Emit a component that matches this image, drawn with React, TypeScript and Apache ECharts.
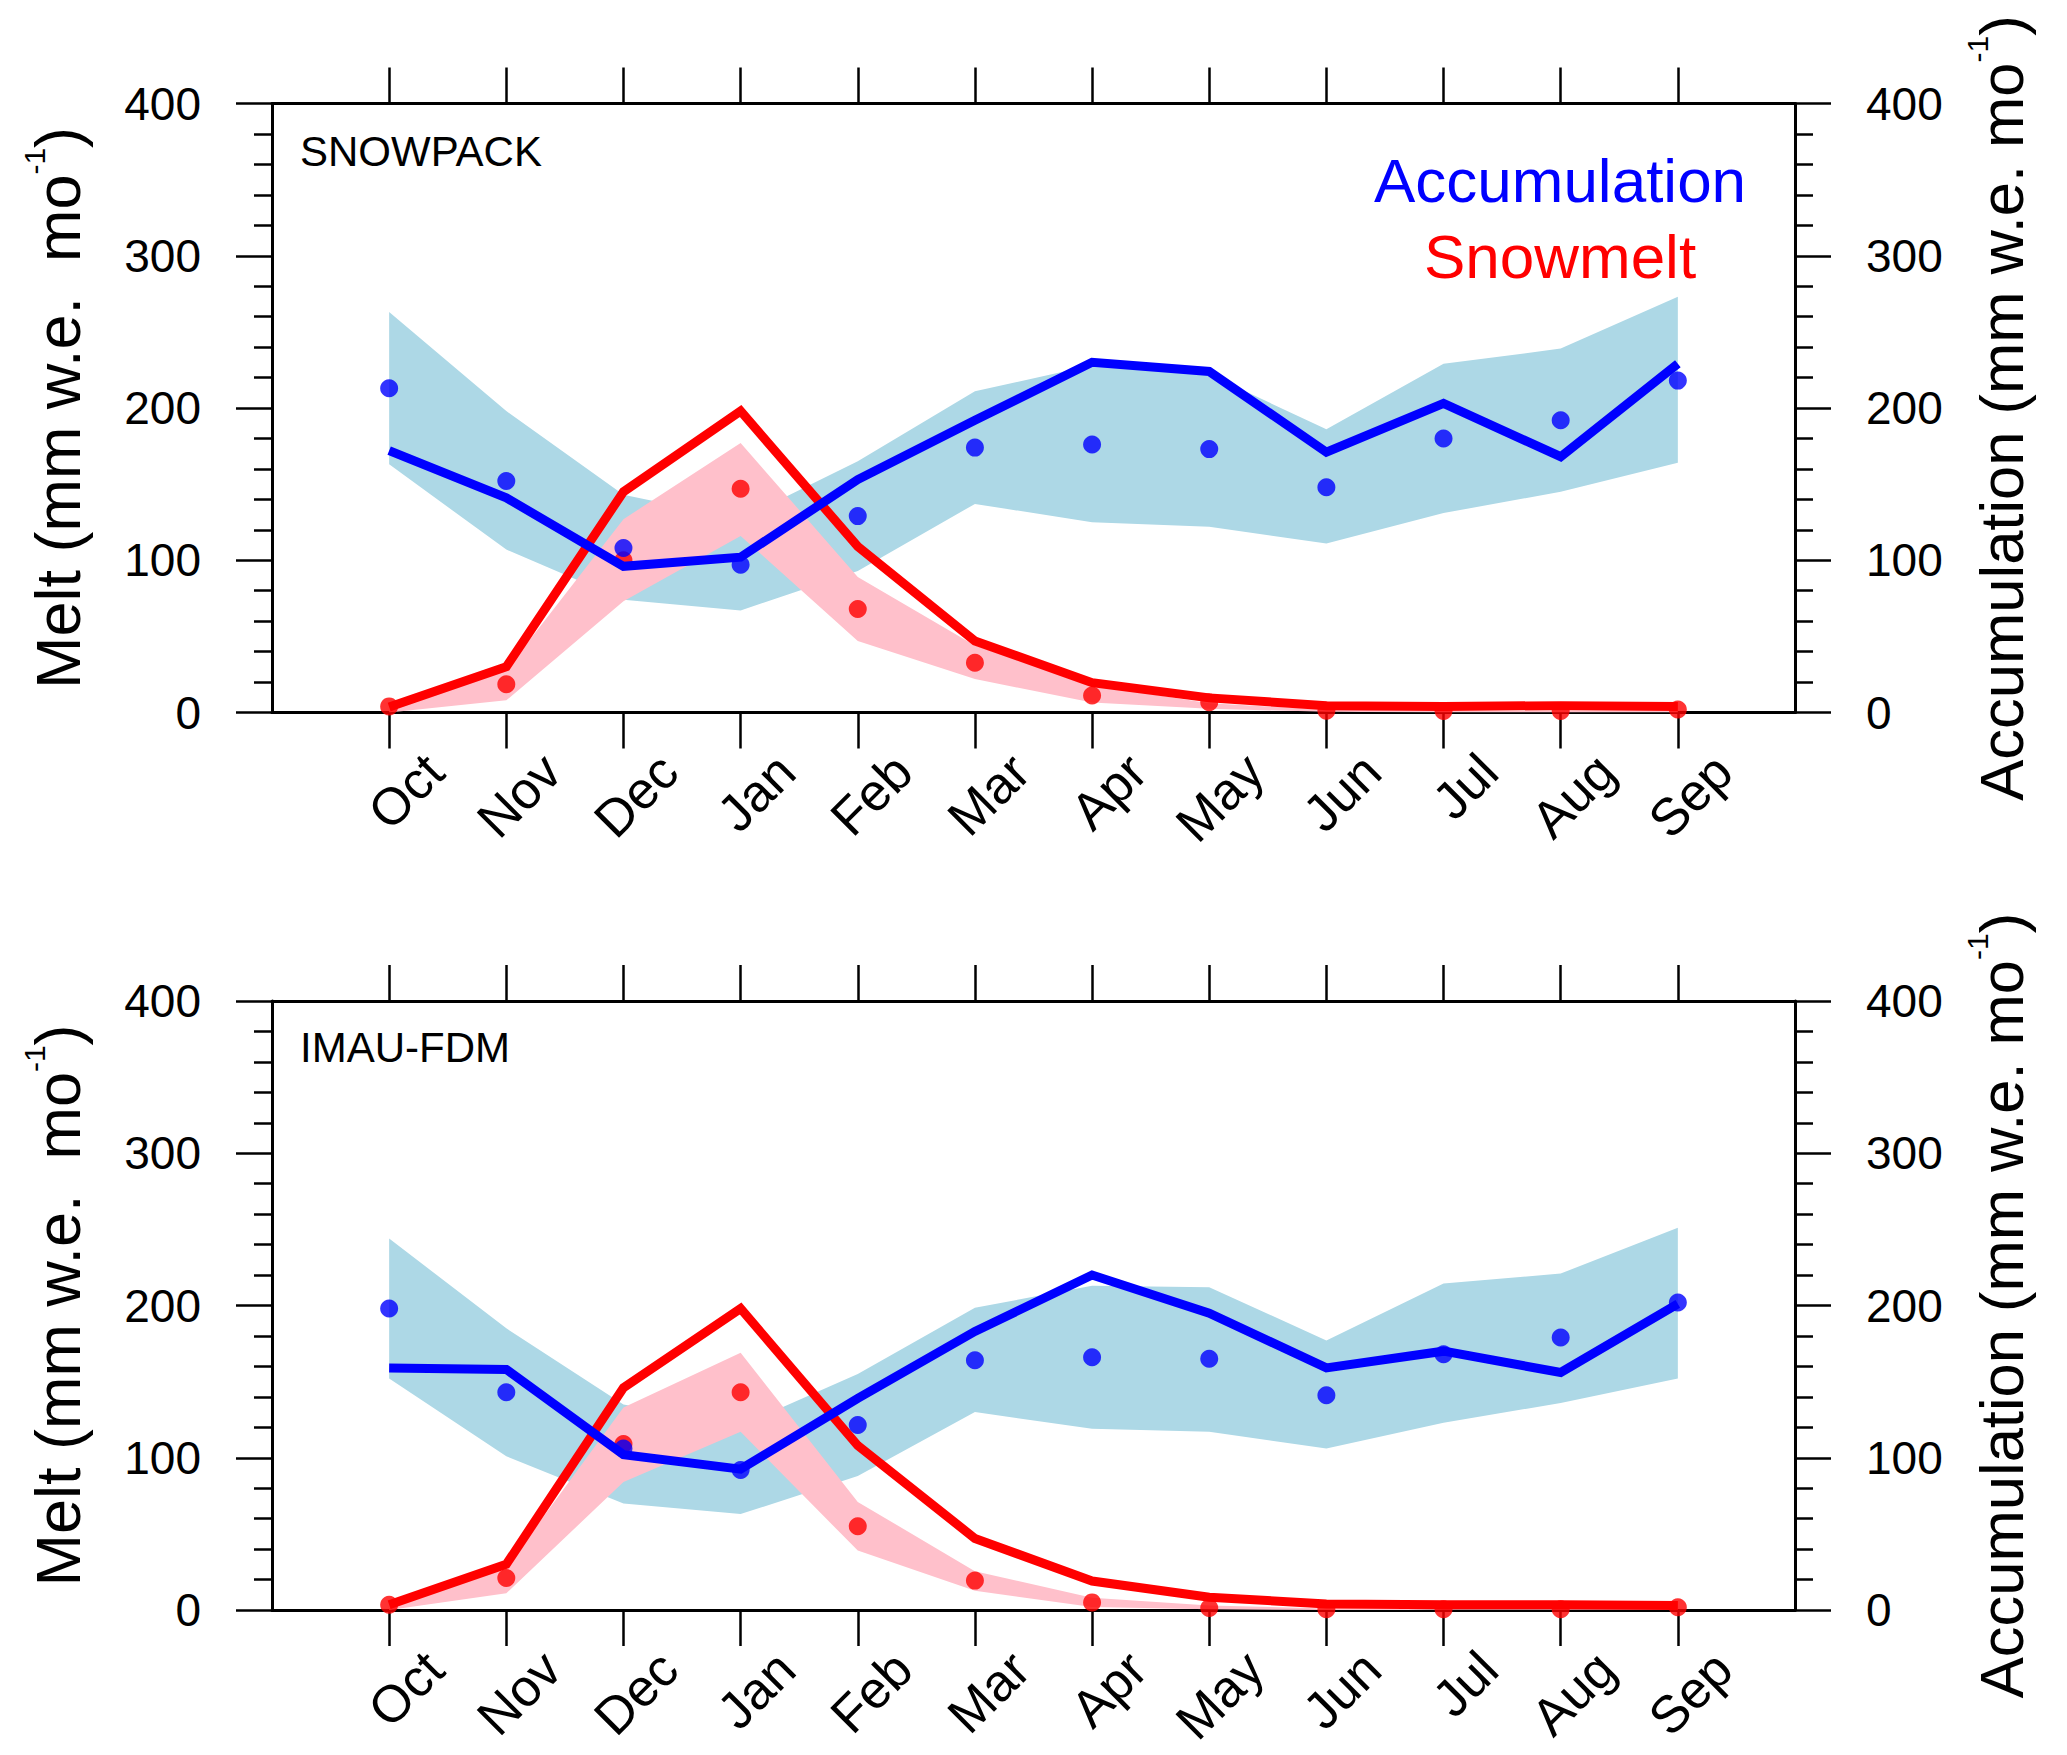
import React, { useEffect, useRef } from 'react';
import * as echarts from 'echarts';

const FONT = '"Liberation Sans", Arial, Helvetica, sans-serif';

const months = ['Oct', 'Nov', 'Dec', 'Jan', 'Feb', 'Mar', 'Apr', 'May', 'Jun', 'Jul', 'Aug', 'Sep'];
const panelLabels = ['SNOWPACK', 'IMAU-FDM'];
const legendLabels = ['Accumulation', 'Snowmelt'];

// SNOWPACK (top panel)
const accUpperTop = [263, 198, 143, 127, 165, 211, 228, 222, 186, 229, 239, 273];
const accLowerTop = [163, 107, 74, 67, 93, 137, 125, 122, 111, 131, 145, 164];
const accModelTop = [172, 141, 96, 102, 153, 192, 230, 224, 171, 203, 168, 229];
const accObsTop = [213, 152, 108, 97, 129, 174, 176, 173, 148, 180, 192, 218];
const meltModelTop = [3.6, 30, 145, 198, 109, 47, 19.6, 9.6, 4.5, 4, 4.5, 4];
const meltUpperTop = [1, 28, 127, 177, 89, 44, 18, 6, 2, 1, 1, 1];
const meltLowerTop = [0, 8, 73, 116, 47, 22, 6.5, 2.4, 0.5, 0, 0, 0];
const meltObsTop = [4, 18.6, 100, 147, 68, 32.7, 11.2, 6.7, 1.2, 1, 1, 2];

// IMAU-FDM (bottom panel)
const accUpperBot = [244, 185, 135, 121, 155, 198.5, 213, 212, 177, 214.5, 221, 251];
const accLowerBot = [152, 101, 70, 63, 88, 130, 119, 117, 106, 123, 136, 152];
const accModelBot = [159, 158, 102, 92.5, 139, 183, 220, 195, 159, 170, 156, 201];
const accObsBot = [198, 143, 106, 92, 121.5, 164, 166, 165, 141, 168, 179, 202];
const meltModelBot = [3.5, 30, 146, 198, 108, 47, 19, 8.4, 4, 3.5, 3.5, 3];
const meltUpperBot = [1, 28, 133, 169, 71, 25.5, 8, 3, 1, 0.5, 0.5, 0.5];
const meltLowerBot = [0, 11, 84, 117, 39, 12.7, 2, 0.5, 0, 0, 0, 0];
const meltObsBot = [3.5, 21, 109, 143, 55, 19.3, 5, 1.3, 0.5, 0.5, 0.5, 1.8];

const categories = ['', ...months, ''];

const panels = [
  { accUpper: accUpperTop, accLower: accLowerTop, accModel: accModelTop, accObs: accObsTop,
    meltModel: meltModelTop, meltUpper: meltUpperTop, meltLower: meltLowerTop, meltObs: meltObsTop },
  { accUpper: accUpperBot, accLower: accLowerBot, accModel: accModelBot, accObs: accObsBot,
    meltModel: meltModelBot, meltUpper: meltUpperBot, meltLower: meltLowerBot, meltObs: meltObsBot },
];

const GRID_LEFT = 272;
const GRID_WIDTH = 1523;
const GRID_HEIGHT = 609;
const GRID_TOPS = [103.5, 1001];

const pairs = (arr: number[]) => arr.map((v, i) => [i + 1, v]);
const diffPairs = (u: number[], l: number[]) => u.map((v, i) => [i + 1, v - l[i]]);

function panelSeries(gi: number, d: any) {
  const common = { xAxisIndex: gi * 2, yAxisIndex: gi * 2, silent: true };
  const bandLine = { symbol: 'none', showSymbol: false, lineStyle: { width: 0, opacity: 0 } };
  return [
    { ...common, ...bandLine, type: 'line', z: 1, stack: 'acc' + gi, data: pairs(d.accLower) },
    { ...common, ...bandLine, type: 'line', z: 1, stack: 'acc' + gi, data: diffPairs(d.accUpper, d.accLower),
      areaStyle: { color: '#ADD8E6', opacity: 1 } },
    { ...common, ...bandLine, type: 'line', z: 2, stack: 'melt' + gi, data: pairs(d.meltLower) },
    { ...common, ...bandLine, type: 'line', z: 2, stack: 'melt' + gi, data: diffPairs(d.meltUpper, d.meltLower),
      areaStyle: { color: '#FFC0CB', opacity: 1 } },
    { ...common, type: 'line', z: 3, data: pairs(d.meltModel), symbol: 'none', showSymbol: false, clip: false,
      lineStyle: { color: '#FF0000', width: 9, join: 'miter' } },
    { ...common, type: 'scatter', z: 4, data: pairs(d.meltObs), symbol: 'circle', symbolSize: 18, clip: false,
      itemStyle: { color: '#FF0000' } },
    { ...common, type: 'line', z: 5, data: pairs(d.accModel), symbol: 'none', showSymbol: false, clip: false,
      lineStyle: { color: '#0000FF', width: 9, join: 'miter' } },
    { ...common, type: 'scatter', z: 6, data: pairs(d.accObs), symbol: 'circle', symbolSize: 18, clip: false,
      itemStyle: { color: '#0000FF' } },
  ];
}

const axisLine = { show: true, onZero: false, lineStyle: { color: '#000', width: 3 } };
const tickStyle = { color: '#000', width: 2.5 };

function xAxes(gi: number) {
  const tick = {
    show: true, length: 36, lineStyle: tickStyle,
    interval: (_i: number, v: string) => v !== '',
  };
  return [
    {
      type: 'category', gridIndex: gi, position: 'bottom', data: categories, boundaryGap: false,
      axisLine, axisTick: tick, splitLine: { show: false },
      axisLabel: {
        show: true, interval: 0, rotate: 45, margin: 5, fontSize: 52, lineHeight: 52,
        fontFamily: FONT, color: '#000', align: 'right', verticalAlign: 'top', padding: [38, 0, 0, 0],
      },
    },
    {
      type: 'category', gridIndex: gi, position: 'top', data: categories, boundaryGap: false,
      axisLine, axisTick: tick, splitLine: { show: false }, axisLabel: { show: false },
    },
  ];
}

function yAxes(gi: number) {
  const base = {
    type: 'value', gridIndex: gi, min: 0, max: 400, interval: 100,
    axisLine, splitLine: { show: false },
    axisTick: { show: true, length: 36, lineStyle: tickStyle },
    minorTick: { show: true, splitNumber: 5, length: 18, lineStyle: tickStyle },
    axisLabel: { show: true, margin: 71, fontSize: 46, fontFamily: FONT, color: '#000' },
    nameLocation: 'middle',
  };
  return [
    {
      ...base, position: 'left',
      name: '{m|Melt (mm w.e.  mo}{s|-1}{m|)}', nameGap: 182.5,
      nameTextStyle: {
        rich: {
          m: { fontSize: 63, lineHeight: 63, fontFamily: FONT, color: '#000', verticalAlign: 'bottom' },
          s: { fontSize: 30, lineHeight: 30, fontFamily: FONT, color: '#000', verticalAlign: 'bottom', padding: [0, 0, 40, 0] },
        },
      },
    },
    {
      ...base, position: 'right',
      name: '{m|Accumulation (mm w.e. mo}{s|-1}{m|)}', nameGap: 176,
      nameTextStyle: {
        rich: {
          m: { fontSize: 61.5, lineHeight: 61.5, fontFamily: FONT, color: '#000', verticalAlign: 'bottom' },
          s: { fontSize: 30, lineHeight: 30, fontFamily: FONT, color: '#000', verticalAlign: 'bottom', padding: [0, 0, 40, 0] },
        },
      },
    },
  ];
}

export default function App() {
  const ref = useRef<HTMLDivElement>(null);
  useEffect(() => {
    if (!ref.current) return;
    const chart = echarts.init(ref.current, null, { renderer: 'svg' });
    const option: any = {
      animation: false,
      backgroundColor: '#fff',
      grid: GRID_TOPS.map((t) => ({
        left: GRID_LEFT, top: t, width: GRID_WIDTH, height: GRID_HEIGHT,
        containLabel: false, outerBoundsMode: 'none',
      })),
      xAxis: [...xAxes(0), ...xAxes(1)],
      yAxis: [...yAxes(0), ...yAxes(1)],
      series: [...panelSeries(0, panels[0]), ...panelSeries(1, panels[1])],
      graphic: [
        { type: 'text', x: 300, y: 151.8, silent: true,
          style: { text: panelLabels[0], fontSize: 42, fontFamily: FONT, fill: '#000', align: 'left', verticalAlign: 'middle' } },
        { type: 'text', x: 300, y: 1047.5, silent: true,
          style: { text: panelLabels[1], fontSize: 42, fontFamily: FONT, fill: '#000', align: 'left', verticalAlign: 'middle' } },
        { type: 'text', x: 1560, y: 180, silent: true,
          style: { text: legendLabels[0], fontSize: 62, fontFamily: FONT, fill: '#0000FF', align: 'center', verticalAlign: 'middle' } },
        { type: 'text', x: 1560, y: 256.5, silent: true,
          style: { text: legendLabels[1], fontSize: 62, fontFamily: FONT, fill: '#FF0000', align: 'center', verticalAlign: 'middle' } },
      ],
    };
    chart.setOption(option);
    return () => chart.dispose();
  }, []);
  return (
    <div
      ref={ref}
      style={{ position: 'fixed', left: 0, top: 0, width: 2067, height: 1755, background: '#fff' }}
    />
  );
}
